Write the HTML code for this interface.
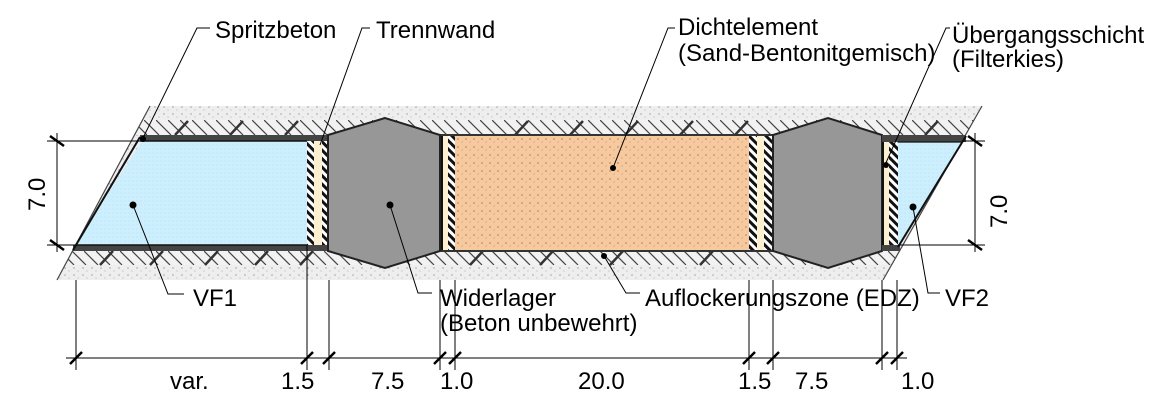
<!DOCTYPE html>
<html><head><meta charset="utf-8"><style>
html,body{margin:0;padding:0;background:#fff;}
svg{display:block}
text{font-family:"Liberation Sans",Arial,sans-serif;font-size:24px;fill:#000}
</style></head><body>
<svg width="1156" height="406" viewBox="0 0 1156 406" xmlns="http://www.w3.org/2000/svg">
<defs>
<clipPath id="rock"><polygon points="150,106 982,106 883,280 57,280"/></clipPath>
<pattern id="dots" width="9" height="7" patternUnits="userSpaceOnUse">
<rect width="9" height="7" fill="#eeeeee"/><circle cx="2" cy="2" r="0.6" fill="#777"/><circle cx="6" cy="5" r="0.5" fill="#999"/></pattern>
<pattern id="hatchT" width="12" height="15" patternUnits="userSpaceOnUse" x="0" y="120">
<rect width="12" height="15" fill="#f2f2f2"/><path d="M0,0 L15,15 M-12,0 L3,15" stroke="#444" stroke-width="1.2"/></pattern>
<pattern id="hatchB" width="12" height="14" patternUnits="userSpaceOnUse" x="0" y="251">
<rect width="12" height="14" fill="#f2f2f2"/><path d="M0,0 L14,14 M-12,0 L2,14" stroke="#444" stroke-width="1.2"/></pattern>
<pattern id="sand" width="8" height="8" patternUnits="userSpaceOnUse">
<rect width="8" height="8" fill="#f6caa0"/><circle cx="2" cy="3" r="0.7" fill="#c06a2a"/><circle cx="6" cy="6" r="0.6" fill="#d9904f"/></pattern>
<pattern id="blue" width="4" height="4" patternUnits="userSpaceOnUse">
<rect width="4" height="4" fill="#cdeefc"/><circle cx="1" cy="1" r="0.5" fill="#a9def5"/></pattern>
<pattern id="bw" width="6" height="6" patternUnits="userSpaceOnUse" patternTransform="rotate(-45)">
<rect width="6" height="6" fill="#fff"/><rect width="3" height="6" fill="#111"/></pattern>
</defs>
<g clip-path="url(#rock)">
<rect x="40" y="106" width="960" height="174" fill="url(#dots)"/>
<rect x="40" y="120" width="960" height="15" fill="url(#hatchT)"/>
<rect x="40" y="251" width="960" height="14" fill="url(#hatchB)"/>
<g stroke="#333" stroke-width="2.5">
<path d="M175,135 L188,121 M230,135 L243,121 M285,135 L298,121 M515,135 L528,121 M570,135 L583,121 M625,135 L638,121 M680,135 L693,121 M735,135 L748,121 M925,135 L938,121"/>
<path d="M100,265 L113,251 M150,265 L163,251 M205,265 L218,251 M255,265 L268,251 M300,265 L313,251 M470,265 L483,251 M540,265 L553,251 M610,265 L623,251 M700,265 L713,251"/>
</g>
</g>
<line x1="150" y1="106" x2="57" y2="280" stroke="#444" stroke-width="1.2"/>
<line x1="982" y1="106" x2="883" y2="280" stroke="#444" stroke-width="1.2"/>
<polygon points="142,141 307,141 307,245 75,245" fill="url(#blue)"/>
<rect x="140" y="135" width="189" height="6" fill="#444"/>
<rect x="73" y="245" width="256" height="6" fill="#444"/>
<line x1="140" y1="137" x2="73" y2="250" stroke="#111" stroke-width="2"/>
<line x1="140" y1="141" x2="307" y2="141" stroke="#111" stroke-width="1.5"/>
<line x1="75" y1="245" x2="307" y2="245" stroke="#111" stroke-width="1.5"/>
<rect x="307" y="141" width="7" height="104" fill="url(#bw)"/>
<rect x="314" y="141" width="8" height="104" fill="#fdf0d0"/>
<rect x="322" y="141" width="6" height="104" fill="url(#bw)"/>
<rect x="440" y="135" width="310" height="116" fill="url(#sand)"/>
<rect x="440" y="135" width="3" height="116" fill="#111"/>
<rect x="443" y="135" width="5" height="116" fill="#fdf0d0"/>
<rect x="448" y="135" width="7" height="116" fill="url(#bw)"/>
<rect x="749" y="135" width="8" height="116" fill="url(#bw)"/>
<rect x="757" y="135" width="7" height="116" fill="#fdf0d0"/>
<rect x="764" y="135" width="8" height="116" fill="url(#bw)"/>
<line x1="440" y1="135" x2="773" y2="135" stroke="#333" stroke-width="2"/>
<line x1="440" y1="251" x2="773" y2="251" stroke="#333" stroke-width="2"/>
<polygon points="328,135 385,118 440,135 440,251 385,268 328,251" fill="#979797" stroke="#222" stroke-width="2"/>
<polygon points="773,135 828,118 882,135 882,251 828,268 773,251" fill="#979797" stroke="#222" stroke-width="2"/>
<rect x="882" y="135" width="84" height="7" fill="#444"/>
<rect x="882" y="245" width="18" height="6" fill="#444"/>
<polygon points="898,142 962,142 898,245" fill="url(#blue)"/>
<rect x="882" y="142" width="2" height="103" fill="#111"/>
<rect x="884" y="142" width="5" height="103" fill="#fdf0d0"/>
<rect x="889" y="142" width="9" height="103" fill="url(#bw)"/>
<line x1="966" y1="136" x2="898" y2="247" stroke="#111" stroke-width="2"/>
<line x1="898" y1="142" x2="962" y2="142" stroke="#111" stroke-width="1.2"/>
<g stroke="#000" stroke-width="1">
<line x1="57" y1="133" x2="57" y2="252"/><line x1="47" y1="141" x2="140" y2="141"/><line x1="47" y1="245" x2="75" y2="245"/>
<line x1="975" y1="133" x2="975" y2="252"/><line x1="962" y1="141" x2="985" y2="141"/><line x1="898" y1="245" x2="985" y2="245"/>
<line x1="76" y1="280" x2="76" y2="370"/><line x1="307" y1="245" x2="307" y2="370"/><line x1="329" y1="280" x2="329" y2="370"/>
<line x1="440" y1="280" x2="440" y2="370"/><line x1="455" y1="280" x2="455" y2="370"/><line x1="749" y1="280" x2="749" y2="370"/>
<line x1="773" y1="280" x2="773" y2="370"/><line x1="882" y1="280" x2="882" y2="370"/><line x1="897" y1="280" x2="897" y2="370"/>
<line x1="66" y1="358" x2="907" y2="358"/>
</g>
<g stroke="#000" stroke-width="2.5">
<line x1="50" y1="136" x2="64" y2="146"/><line x1="50" y1="240" x2="64" y2="250"/>
<line x1="968" y1="136" x2="982" y2="146"/><line x1="968" y1="240" x2="982" y2="250"/>
<line x1="70" y1="364" x2="82" y2="352"/><line x1="301" y1="364" x2="313" y2="352"/><line x1="323" y1="364" x2="335" y2="352"/>
<line x1="434" y1="364" x2="446" y2="352"/><line x1="449" y1="364" x2="461" y2="352"/><line x1="743" y1="364" x2="755" y2="352"/>
<line x1="767" y1="364" x2="779" y2="352"/><line x1="876" y1="364" x2="888" y2="352"/><line x1="891" y1="364" x2="903" y2="352"/>
</g>
<g stroke="#000" stroke-width="1" fill="none">
<polyline points="210,28 197,28 143,138"/>
<polyline points="370,28 362,28 320,145"/>
<polyline points="675,28 668,28 613,168"/>
<polyline points="950,28 946,28 885,165"/>
<polyline points="133,205 168,294 184,294"/>
<polyline points="390,205 418,293 432,293"/>
<polyline points="604,256 626,293 640,293"/>
<polyline points="913,207 928,293 940,293"/>
</g>
<g fill="#000">
<circle cx="143" cy="139" r="3"/><circle cx="133" cy="205" r="3.5"/><circle cx="390" cy="205" r="3.5"/>
<circle cx="613" cy="168" r="3"/><circle cx="604" cy="256" r="3"/><circle cx="886" cy="165" r="3"/><circle cx="913" cy="207" r="3.5"/>
</g>
<text x="215" y="38">Spritzbeton</text>
<text x="376" y="38">Trennwand</text>
<text x="678" y="35">Dichtelement</text>
<text x="678" y="61">(Sand-Bentonitgemisch)</text>
<text x="952" y="43">Übergangsschicht</text>
<text x="952" y="67">(Filterkies)</text>
<text x="193" y="306">VF1</text>
<text x="440" y="306">Widerlager</text>
<text x="440" y="331">(Beton unbewehrt)</text>
<text x="645" y="306">Auflockerungszone (EDZ)</text>
<text x="945" y="306">VF2</text>
<text x="170" y="389">var.</text>
<text x="281" y="389">1.5</text>
<text x="371" y="389">7.5</text>
<text x="440" y="389">1.0</text>
<text x="578" y="389">20.0</text>
<text x="738" y="389">1.5</text>
<text x="795" y="389">7.5</text>
<text x="901" y="389">1.0</text>
<text transform="translate(45,211) rotate(-90)">7.0</text>
<text transform="translate(1007,228) rotate(-90)">7.0</text>
</svg>
</body></html>
